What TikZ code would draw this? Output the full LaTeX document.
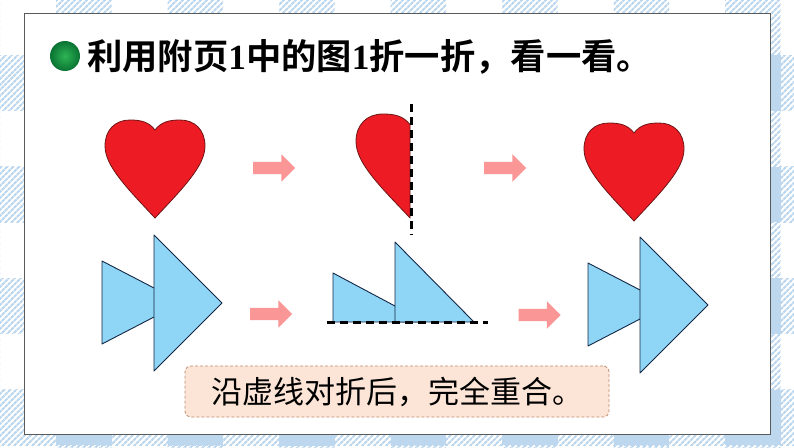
\documentclass[tikz,border=0pt]{standalone}
\usepackage{fontspec}
\newfontfamily\cjk{Noto Sans CJK SC}[BoldFont={Noto Sans CJK SC Bold}]
\newfontfamily\numfont{Liberation Serif}
\usepackage{tikz}
\usetikzlibrary{arrows.meta,positioning,shapes.arrows,patterns.meta}
\definecolor{bandblue}{RGB}{189,215,238}
\definecolor{heartred}{RGB}{237,28,36}
\definecolor{heartline}{RGB}{110,20,20}
\definecolor{triblue}{RGB}{142,213,246}
\definecolor{triline}{RGB}{20,40,70}
\definecolor{arrpink}{RGB}{250,150,150}
\definecolor{notefill}{RGB}{252,229,215}
\definecolor{notedraw}{RGB}{190,140,110}
\definecolor{bulletlight}{RGB}{45,180,85}
\definecolor{bulletdark}{RGB}{10,115,50}
\definecolor{panelline}{RGB}{90,90,90}
\tikzset{
  heart/.style={fill=heartred,draw=heartline,line width=0.8pt},
  tri/.style={fill=triblue,draw=triline,line width=0.9pt,line join=round},
  fold/.style={draw=black,line width=3pt,dash pattern=on 8pt off 5pt},
  parr/.style={single arrow,fill=arrpink,draw=none,minimum height=42pt,
               inner xsep=0pt,inner ysep=6pt,single arrow head extend=7.5pt},
}
% left half of the heart, from the dip down to the tip
\newcommand{\heartleft}{(0,10) .. controls (-6,2) and (-14,0) .. (-25,0)
  .. controls (-40,0) and (-50,10) .. (-50,26)
  .. controls (-50,46) and (-28,68) .. (0,98)}

\begin{document}
\begin{tikzpicture}[x=1pt,y=-1pt,
    hatch/.style={pattern={Lines[angle=45,distance=4pt,line width=2.2pt]},
                  pattern color=bandblue},
    note/.style={rectangle,rounded corners=6pt,draw=notedraw,fill=notefill,
                 line width=0.8pt,dash pattern=on 3pt off 2pt,
                 minimum width=424pt,minimum height=51pt,
                 font=\cjk\fontsize{31}{36}\selectfont},
    bulletdot/.style={circle,minimum size=30pt,inner sep=0pt,
                      inner color=bulletlight,outer color=bulletdark},
  ]
  \useasboundingbox (0,0) rectangle (794,447);

  % ── Plaid background
  \begin{scope}
    \clip (0,0) rectangle (794,447);
    \fill[white] (0,0) rectangle (794,447);
    \foreach \y in {55,166.5,278,389.5}
      \fill[hatch] (0,\y) rectangle (794,\y+55.5);
    \foreach \x in {-55.5,56,167.5,279,390.5,502,613.5,725}
      \fill[hatch] (\x,0) rectangle (\x+55.5,447);
    \foreach \x in {-55.5,56,167.5,279,390.5,502,613.5,725}
      \foreach \y in {55,166.5,278,389.5}
        \fill[bandblue] (\x,\y) rectangle (\x+55.5,\y+55.5);
  \end{scope}

  % ── Panel
  \draw[panelline,fill=white,line width=1pt] (24,13) rectangle (770,434);

  % ── Title
  \node[bulletdot] (dot) at (65,56) {};
  \node[anchor=west,inner sep=0pt,font=\cjk\bfseries\fontsize{35.3}{40}\selectfont]
    (title) at (87,57) {利用附页{\numfont 1}中的图{\numfont 1}折一折，看一看。};

  % ── Row 1 : hearts
  \begin{scope}[shift={(155,120)}]
    \path[heart] \heartleft .. controls (28,68) and (50,46) .. (50,26)
      .. controls (50,10) and (40,0) .. (25,0)
      .. controls (14,0) and (6,2) .. (0,10) -- cycle;
  \end{scope}
  \begin{scope}[shift={(410,114)},xscale=1.08,yscale=1.06]
    \path[heart] \heartleft -- cycle;
  \end{scope}
  \draw[fold] (411,104) -- (411,235);
  \begin{scope}[shift={(634,123)}]
    \path[heart] \heartleft .. controls (28,68) and (50,46) .. (50,26)
      .. controls (50,10) and (40,0) .. (25,0)
      .. controls (14,0) and (6,2) .. (0,10) -- cycle;
  \end{scope}

  % ── Row 2 : triangles
  \draw[tri] (102,261) -- (102,344) -- (182,302.5) -- cycle;
  \draw[tri] (154,235) -- (154,371) -- (222,303) -- cycle;

  \draw[tri] (333,273) -- (333,322) -- (425,322) -- cycle;
  \draw[tri] (395,242) -- (395,322) -- (474,322) -- cycle;
  \draw[fold] (327,322) -- (488,322);

  \draw[tri] (588,263) -- (588,346) -- (668,304.5) -- cycle;
  \draw[tri] (640,237) -- (640,373) -- (708,305) -- cycle;

  % ── Arrows
  \node[parr] (a1) at (271,168) {};
  \node[parr] (a2) at (502,168) {};
  \node[parr] (a3) at (268,314) {};
  \node[parr] (a4) at (536.5,315) {};

  % ── Footer
  \node[note] (note) at (397,391.5) {沿虚线对折后，完全重合。};
\end{tikzpicture}
\end{document}
